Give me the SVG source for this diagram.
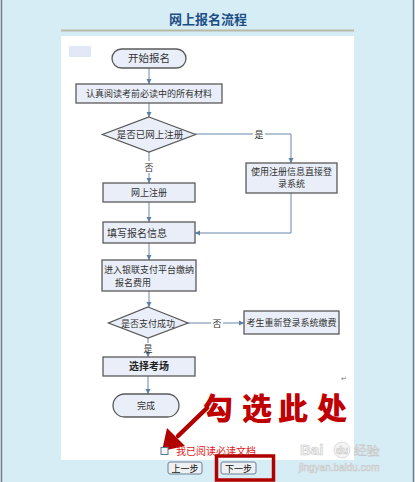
<svg xmlns="http://www.w3.org/2000/svg" width="415" height="482" viewBox="0 0 415 482">
<defs>
<style>
.box{fill:#e9eef8;stroke:#5a5a5a;stroke-width:1.3}
.t{font-family:"Noto Sans CJK SC","Liberation Sans",sans-serif;font-size:9px;fill:#333;text-anchor:middle}
.c{fill:none;stroke:#6a88aa;stroke-width:1}
.lbl{font-family:"Noto Sans CJK SC","Liberation Sans",sans-serif;font-size:9px;fill:#333;text-anchor:middle}
.btn{fill:#eef0f2;stroke:#6a7f9a;stroke-width:1}
.bt{font-family:"Noto Sans CJK SC","Liberation Sans",sans-serif;font-size:9px;fill:#111;text-anchor:middle}
.red{font-family:"Noto Sans CJK SC",sans-serif;font-size:30px;font-weight:900;fill:#c00000}
.wm{font-family:"Liberation Sans","DejaVu Sans",sans-serif;fill:#f4f4f4;stroke:#c9c9c9;stroke-width:0.6}
</style>
<marker id="ah" markerWidth="6" markerHeight="6" refX="5" refY="3" orient="auto" markerUnits="userSpaceOnUse">
<path d="M0,0.5 L5,3 L0,5.5 Z" fill="#5b7ea6"/>
</marker>
</defs>

<!-- frame -->
<rect x="0" y="0" width="415" height="482" fill="#d6edf6"/>
<line x1="1.5" y1="0" x2="1.5" y2="482" stroke="#7a7f86" stroke-width="1.5"/>
<line x1="413.5" y1="0" x2="413.5" y2="482" stroke="#7a7f86" stroke-width="1.5"/>
<text x="208" y="24" font-family="Noto Sans CJK SC,sans-serif" font-size="13" font-weight="bold" fill="#1d4f86" text-anchor="middle">网上报名流程</text>
<line x1="61" y1="30.5" x2="354" y2="30.5" stroke="#b9b7a6" stroke-width="2"/>
<rect x="61" y="36" width="293" height="424" fill="#ffffff"/>
<rect x="69" y="46" width="22" height="11" fill="#e2e8f6"/>

<g id="connectors">
<line class="c" x1="149" y1="68" x2="149" y2="84" marker-end="url(#ah)"/>
<line class="c" x1="149" y1="103" x2="149" y2="117" marker-end="url(#ah)"/>
<path class="c" d="M195,134 H253 M265,134 H291 V163" marker-end="url(#ah)"/>
<text class="lbl" x="259" y="137.5">是</text>
<path class="c" d="M149,152 V161 M149,173 V183" marker-end="url(#ah)"/>
<text class="lbl" x="149" y="170.5">否</text>
<line class="c" x1="149" y1="202" x2="149" y2="222" marker-end="url(#ah)"/>
<path class="c" d="M291,193 V233 H195" marker-end="url(#ah)"/>
<line class="c" x1="149" y1="243" x2="149" y2="260" marker-end="url(#ah)"/>
<line class="c" x1="149" y1="291" x2="149" y2="307" marker-end="url(#ah)"/>
<path class="c" d="M188,323 H211 M223,323 H244" marker-end="url(#ah)"/>
<text class="lbl" x="217" y="326.5">否</text>
<path class="c" d="M148,338 V343 M148,355 V357" marker-end="url(#ah)"/>
<text class="lbl" x="148" y="352">是</text>
<line class="c" x1="148" y1="376" x2="148" y2="394" marker-end="url(#ah)"/>
</g>

<g id="start">
<rect class="box" x="112" y="49" width="74" height="19" rx="9.5"/>
<text class="t" x="149" y="62" style="font-size:10.5px">开始报名</text>
</g>
<g id="read">
<rect class="box" x="76" y="84" width="146" height="19"/>
<text class="t" x="149" y="97">认真阅读考前必读中的所有材料</text>
</g>
<g id="registered">
<polygon class="box" points="149,117 195.5,134.5 149,152 102.5,134.5"/>
<text class="t" x="150" y="138" style="font-size:9.5px">是否已网上注册</text>
</g>
<g id="login">
<rect class="box" x="246" y="163" width="91" height="30"/>
<text class="t" x="291.5" y="175">使用注册信息直接登</text>
<text class="t" x="291.5" y="187">录系统</text>
</g>
<g id="register">
<rect class="box" x="103" y="183" width="92" height="19"/>
<text class="t" x="149" y="196">网上注册</text>
</g>
<g id="fill">
<rect class="box" x="103" y="222" width="92" height="21"/>
<text class="t" x="107" y="236.5" style="font-size:10px;text-anchor:start">填写报名信息</text>
</g>
<g id="pay">
<rect class="box" x="102" y="260" width="94" height="31"/>
<text class="t" x="149" y="273">进入银联支付平台缴纳</text>
<text class="t" x="115" y="286" style="text-anchor:start">报名费用</text>
</g>
<g id="paid">
<polygon class="box" points="148,307 188,323 148,338 108.5,323"/>
<text class="t" x="148" y="326.5">是否支付成功</text>
</g>
<g id="relogin">
<rect class="box" x="244" y="311" width="95" height="23"/>
<text class="t" x="291.5" y="326">考生重新登录系统缴费</text>
</g>
<g id="exam">
<rect class="box" x="103" y="357" width="92" height="19"/>
<text class="t" x="149" y="370" style="font-size:10px;font-weight:bold;fill:#222">选择考场</text>
</g>
<g id="done">
<rect class="box" x="113" y="394" width="66" height="23" rx="11.5"/>
<text class="t" x="146" y="409">完成</text>
</g>

<text x="341" y="381" font-family="DejaVu Sans,sans-serif" font-size="7" fill="#777">↵</text>

<!-- red annotation -->
<g id="annotation">
<text class="red" x="203" y="419">勾</text>
<text class="red" x="242" y="419">选</text>
<text class="red" x="278" y="419">此</text>
<text class="red" x="317" y="419">处</text>
<line x1="207" y1="408" x2="178" y2="436" stroke="#b00000" stroke-width="4.5" stroke-linecap="round"/>
<polygon points="162,451 167,428 185,446" fill="#b00000"/>
</g>

<g id="agree">
<rect x="161" y="447.5" width="7" height="7" fill="#f4f6f8" stroke="#5a7898" stroke-width="1"/>
<text x="176" y="455" font-family="Noto Sans CJK SC,sans-serif" font-size="10" fill="#e02020">我已阅读必读文档</text>
</g>

<!-- watermark -->
<text class="wm" x="300" y="455" font-size="15" font-weight="bold">Bai</text>
<circle cx="342" cy="450" r="8" fill="#f4f4f4" stroke="#c9c9c9" stroke-width="0.6"/>
<text class="wm" x="342" y="453.5" font-size="10" font-weight="bold" text-anchor="middle">du</text>
<text class="wm" x="354" y="455" font-size="13" font-family="Noto Sans CJK SC,sans-serif">经验</text>
<text class="wm" x="299" y="471" font-size="10">jingyan.baidu.com</text>

<g id="prev">
<rect class="btn" x="168" y="462" width="34" height="12" rx="2"/>
<text class="bt" x="185" y="471.5">上一步</text>
</g>
<g id="next">
<rect class="btn" x="221" y="462" width="35" height="12" rx="2"/>
<text class="bt" x="238.5" y="471.5">下一步</text>
</g>
<rect x="216.5" y="456" width="57" height="24" fill="none" stroke="#b00000" stroke-width="3.5"/>
</svg>
